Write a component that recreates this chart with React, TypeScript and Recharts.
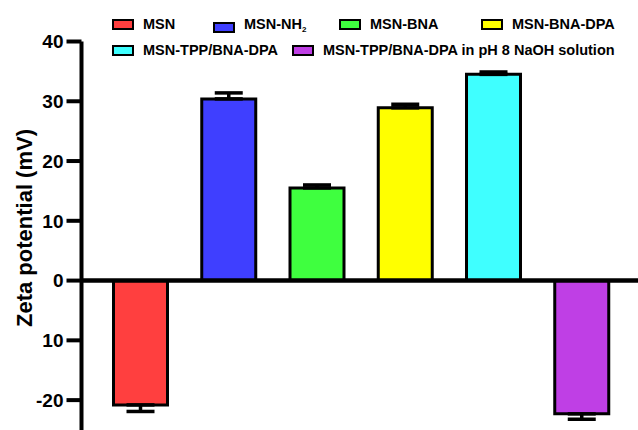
import { BarChart, Bar, Cell, XAxis, YAxis, ErrorBar, ReferenceLine, Label } from 'recharts';

const categories = ['MSN', 'MSN-NH2', 'MSN-BNA', 'MSN-BNA-DPA', 'MSN-TPP/BNA-DPA', 'MSN-TPP/BNA-DPA in pH 8 NaOH solution'];
const zetaValues = [-20.8, 30.4, 15.5, 28.9, 34.5, -22.3];
const zetaErrors = [1.1, 1.0, 0.5, 0.6, 0.4, 0.9];
const barColors = ['#FF3F3F', '#3F3FFF', '#3FFF3F', '#FFFF00', '#3FFFFF', '#BF3FE5'];
const yTicks = [-20, -10, 0, 10, 20, 30, 40];
const yTickLabels = ['-20', '10', '0', '10', '20', '30', '40'];

// error only drawn away from zero, like the original plot
const data = categories.map((name, i) => ({
  name,
  value: zetaValues[i],
  err: zetaValues[i] < 0 ? [zetaErrors[i], 0] : [0, zetaErrors[i]],
}));

const FONT = '"Liberation Sans", Arial, sans-serif';

// legend placement (px from left, row)
const legendSpots = [
  { left: 112, top: 19 },
  { left: 213, top: 19 },
  { left: 339, top: 19 },
  { left: 481, top: 19 },
  { left: 112, top: 45 },
  { left: 292, top: 45 },
];

function LegendLabel({ name }: { name: string }) {
  if (name === 'MSN-NH2') {
    return (
      <span>
        MSN-NH<sub style={{ fontSize: 8, verticalAlign: -3 }}>2</sub>
      </span>
    );
  }
  return <span>{name}</span>;
}

export default function App() {
  return (
    <div style={{ position: 'absolute', left: 0, top: 0, width: 638, height: 430, background: '#fff', fontFamily: FONT }}>
      <BarChart width={638} height={430} data={data} margin={{ top: 41.5, right: 0, bottom: 0, left: 0 }}>
        <XAxis dataKey="name" hide padding={{ left: 15, right: 12 }} />
        <YAxis
          width={81.5}
          domain={[-25, 40]}
          ticks={yTicks}
          interval={0}
          allowDataOverflow
          tickFormatter={(v: number) => yTickLabels[yTicks.indexOf(v)]}
          axisLine={{ stroke: '#000', strokeWidth: 4 }}
          tickLine={{ stroke: '#000', strokeWidth: 4 }}
          tickSize={15}
          tickMargin={3}
          tick={{ fill: '#000', fontSize: 19, fontWeight: 700, fontFamily: FONT }}
        >
          <Label
            content={() => (
              <text
                x={24}
                y={228}
                transform="rotate(-90, 24, 228)"
                textAnchor="middle"
                dominantBaseline="central"
                style={{ fontSize: 22, fontWeight: 700, fontFamily: FONT, fill: '#000' }}
              >
                Zeta potential (mV)
              </text>
            )}
          />
        </YAxis>
        <Bar dataKey="value" barSize={54} stroke="#000" strokeWidth={3} isAnimationActive={false}>
          {data.map((d, i) => (
            <Cell key={d.name} fill={barColors[i]} />
          ))}
          <ErrorBar dataKey="err" width={14} stroke="#000" strokeWidth={3.5} direction="y" isAnimationActive={false} />
        </Bar>
        <ReferenceLine y={0} stroke="#000" strokeWidth={4.5} />
      </BarChart>

      {/* Legend */}
      {categories.map((name, i) => (
        <div
          key={name}
          style={{
            position: 'absolute',
            left: legendSpots[i].left,
            top: legendSpots[i].top,
            display: 'flex',
            alignItems: 'center',
            fontSize: 14.5,
            fontWeight: 700,
            color: '#000',
            whiteSpace: 'nowrap',
            lineHeight: '11px',
          }}
        >
          <div
            style={{
              width: 22,
              height: 11,
              boxSizing: 'border-box',
              border: '2px solid #000',
              background: barColors[i],
              marginRight: 9,
            }}
          />
          <LegendLabel name={name} />
        </div>
      ))}
    </div>
  );
}
